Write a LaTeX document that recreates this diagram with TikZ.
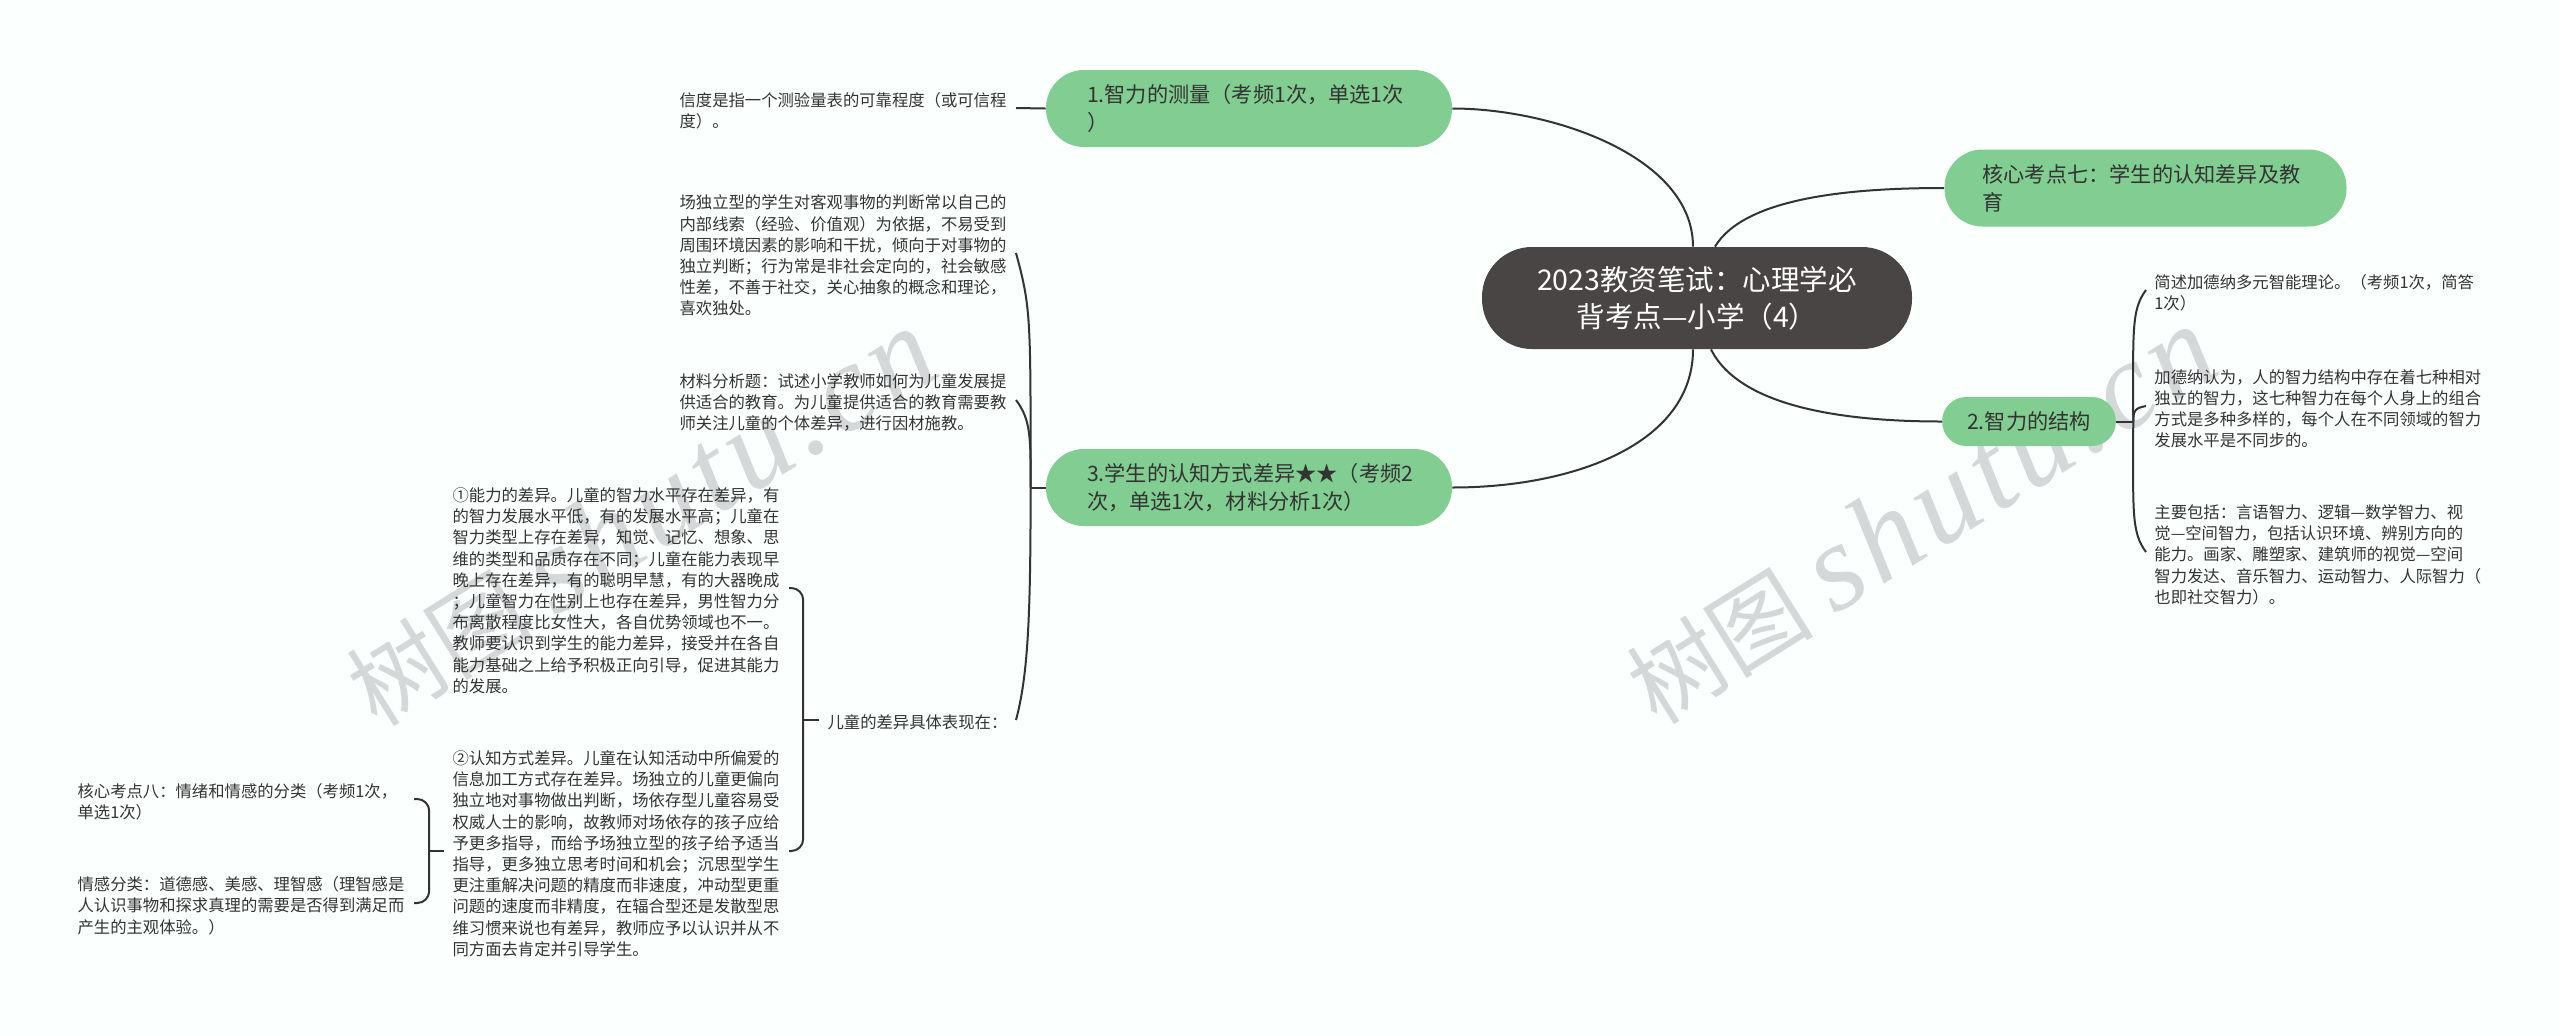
\documentclass[tikz,border=0pt]{standalone}
\usepackage{fontspec}
\setmainfont{Noto Sans CJK SC}
\newfontfamily\markfont[LetterSpace=5]{Liberation Serif}
\usepackage{xcolor}
\definecolor{pagebg}{HTML}{FBFFFE}
\definecolor{branchgreen}{HTML}{82CD91}
\definecolor{rootgray}{HTML}{4A4545}
\definecolor{inkgray}{HTML}{333333}
\definecolor{markgray}{HTML}{D4D8D8}
\tikzset{
  root/.style={fill=rootgray,draw=none,rounded corners=25pt,text=white,align=center,text width=175pt,
    minimum width=215pt,minimum height=51pt,inner sep=0pt,font=\fontsize{14.25}{18.6}\selectfont},
  branch/.style={fill=branchgreen,draw=none,rounded corners=19pt,text=inkgray,align=left,
    minimum height=38.5pt,inner ysep=0pt,font=\fontsize{10.6}{14}\selectfont},
  leaf/.style={align=left,text width=164pt,inner xsep=4pt,inner ysep=0pt,text=inkgray,
    font=\fontsize{8.17}{10.6}\selectfont,execute at begin node={\rule{0pt}{9.6pt}}},
  link/.style={draw=inkgray,line width=1pt},
  watermark/.style={text=markgray,rotate=32,inner sep=0pt,font=\fontsize{47}{47}\selectfont},
}
\newcommand{\markname}{树图 {\markfont\itshape\fontsize{62}{62}\selectfont shutu.cn}}
\begin{document}
\begin{tikzpicture}[x=0.5pt,y=-0.5pt]
    % Page
    \fill[pagebg] (0,0) rectangle (2560,1035);
    \useasboundingbox (0,0) rectangle (2560,1035);

    % Watermarks
    \node[watermark] (markleft) at (640,518) {\markname};
    \node[watermark] (markright) at (1920,516) {\markname};

    % Root and branches
    \node[root] (center) at (1697,298) {2023教资笔试：心理学必\\背考点—小学（4）};
    \node[branch,text width=162pt,inner xsep=20.5pt] (n1) at (1249,108.5) {1.智力的测量（考频1次，单选1次\\）};
    \node[branch,text width=162pt,inner xsep=20.5pt] (n3) at (1249,487.5) {3.学生的认知方式差异★★（考频2\\次，单选1次，材料分析1次）};
    \node[branch,text width=163pt,inner xsep=19pt] (n7) at (2145.5,188) {核心考点七：学生的认知差异及教\\育};
    \node[branch,rounded corners=12pt,minimum height=24.5pt,inner xsep=12.5pt] (n2) at (2029,421.5) {2.智力的结构};

    % Leaves, left side
    \node[leaf,anchor=east] (reli) at (1016,108) {信度是指一个测验量表的可靠程度（或可信程\\度）。};
    \node[leaf,anchor=east] (field) at (1016,253) {场独立型的学生对客观事物的判断常以自己的\\内部线索（经验、价值观）为依据，不易受到\\周围环境因素的影响和干扰，倾向于对事物的\\独立判断；行为常是非社会定向的，社会敏感\\性差，不善于社交，关心抽象的概念和理论，\\喜欢独处。};
    \node[leaf,anchor=east] (mat) at (1016,400) {材料分析题：试述小学教师如何为儿童发展提\\供适合的教育。为儿童提供适合的教育需要教\\师关注儿童的个体差异，进行因材施教。};
    \node[leaf,anchor=east,text width=90pt] (diff) at (1016,720) {儿童的差异具体表现在：};
    \node[leaf,anchor=east] (able) at (789,588) {①能力的差异。儿童的智力水平存在差异，有\\的智力发展水平低，有的发展水平高；儿童在\\智力类型上存在差异，知觉、记忆、想象、思\\维的类型和品质存在不同；儿童在能力表现早\\晚上存在差异，有的聪明早慧，有的大器晚成\\；儿童智力在性别上也存在差异，男性智力分\\布离散程度比女性大，各自优势领域也不一。\\教师要认识到学生的能力差异，接受并在各自\\能力基础之上给予积极正向引导，促进其能力\\的发展。};
    \node[leaf,anchor=east] (style) at (789,851) {②认知方式差异。儿童在认知活动中所偏爱的\\信息加工方式存在差异。场独立的儿童更偏向\\独立地对事物做出判断，场依存型儿童容易受\\权威人士的影响，故教师对场依存的孩子应给\\予更多指导，而给予场独立型的孩子给予适当\\指导，更多独立思考时间和机会；沉思型学生\\更注重解决问题的精度而非速度，冲动型更重\\问题的速度而非精度，在辐合型还是发散型思\\维习惯来说也有差异，教师应予以认识并从不\\同方面去肯定并引导学生。};
    \node[leaf,anchor=east] (emo) at (414,799) {核心考点八：情绪和情感的分类（考频1次，\\单选1次）};
    \node[leaf,anchor=east] (emob) at (414,903) {情感分类：道德感、美感、理智感（理智感是\\人认识事物和探求真理的需要是否得到满足而\\产生的主观体验。）};

    % Leaves, right side
    \node[leaf,anchor=west] (gard) at (2146,290) {简述加德纳多元智能理论。（考频1次，简答\\1次）};
    \node[leaf,anchor=west] (gardb) at (2146,406) {加德纳认为，人的智力结构中存在着七种相对\\独立的智力，这七种智力在每个人身上的组合\\方式是多种多样的，每个人在不同领域的智力\\发展水平是不同步的。};
    \node[leaf,anchor=west] (gardc) at (2146,552) {主要包括：言语智力、逻辑—数学智力、视\\觉—空间智力，包括认识环境、辨别方向的\\能力。画家、雕塑家、建筑师的视觉—空间\\智力发达、音乐智力、运动智力、人际智力（\\也即社交智力）。};

    % Root links
    \draw[link] ([xshift=-2pt]center.north) .. controls +(0,-90) and +(100,0) .. (n1.east);
    \draw[link] ([xshift=-2pt]center.south) .. controls +(0,95) and +(120,0) .. (n3.east);
    \draw[link] ([xshift=9pt]center.north) .. controls +(30,-50) and +(-90,0) .. (n7.west);
    \draw[link] ([xshift=7pt]center.south) .. controls +(30,60) and +(-90,0) .. (n2.west);

    % Hubs
    \coordinate (hubl) at ([xshift=-7.5pt]n3.west);
    \coordinate (hubr) at ([xshift=8.5pt]n2.east);
    \coordinate (hubd) at ([xshift=-8pt]diff.west);
    \coordinate (hube) at ([xshift=-7.5pt]style.west);

    % Branch 1
    \draw[link] (reli.east) -- (n1.west);

    % Branch 3
    \draw[link] (n3.west) -- (hubl);
    \draw[link] (hubl) .. controls +(0,-170) and +(15,55) .. (field.east);
    \draw[link] (hubl) .. controls +(0,-50) and +(15,20) .. (mat.east);
    \draw[link] (hubl) .. controls +(0,130) and +(12,-45) .. (diff.east);
    \draw[link] (diff.west) -- (hubd);
    \draw[link,rounded corners=6pt] (hubd) |- (able.east);
    \draw[link,rounded corners=6pt] (hubd) |- (style.east);
    \draw[link] (style.west) -- (hube);
    \draw[link,rounded corners=6pt] (hube) |- (emo.east);
    \draw[link,rounded corners=6pt] (hube) |- (emob.east);

    % Branch 2
    \draw[link] (n2.east) -- (hubr);
    \draw[link] (hubr) .. controls +(0,-90) and +(-15,20) .. (gard.west);
    \draw[link] (hubr) .. controls +(0,-12) and +(-10,2) .. (gardb.west);
    \draw[link] (hubr) .. controls +(0,90) and +(-15,-20) .. (gardc.west);
\end{tikzpicture}
\end{document}
